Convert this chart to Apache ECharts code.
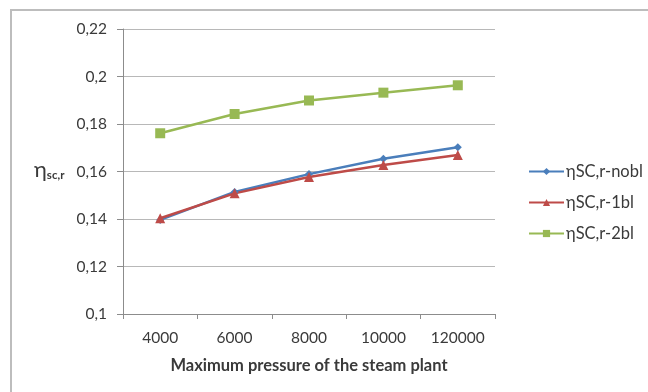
<!DOCTYPE html>
<html><head><meta charset="utf-8">
<script src="https://cdn.jsdelivr.net/npm/echarts@6/dist/echarts.min.js"></script>
<style>html,body{margin:0;padding:0;background:#fff}#c{width:648px;height:392px}</style>
</head><body><div id="c"></div>
<script>
const categories = ['4000', '6000', '8000', '10000', '120000'];
const seriesNames = ['ηSC,r-nobl', 'ηSC,r-1bl', 'ηSC,r-2bl'];
const noblValues = [0.1396, 0.1514, 0.1589, 0.1654, 0.1702];
const bl1Values = [0.1403, 0.1508, 0.1577, 0.1627, 0.1669];
const bl2Values = [0.1761, 0.1842, 0.1899, 0.1932, 0.1963];
const yTicks = [0.1, 0.12, 0.14, 0.16, 0.18, 0.2, 0.22];

const font = 'Lato, "Open Sans", sans-serif';
const txt = '#3a3a3a';
const chart = echarts.init(document.getElementById('c'), null, {renderer: 'canvas'});
function mk(name, data, color, symbol, size) {
  return {
    name, type: 'line', data, color,
    symbol, symbolSize: size, showSymbol: true,
    lineStyle: {width: 2.5, color},
    itemStyle: {color},
    animation: false
  };
}
chart.setOption({
  animation: false,
  grid: {left: 123, right: 153, top: 29, bottom: 78},
  graphic: [
    {type: 'rect', shape: {x: 11, y: 10, width: 660, height: 420}, style: {fill: 'none', stroke: '#bdbdbd', lineWidth: 2}, silent: true},
    {type: 'text', left: 34, top: 159, style: {
      text: '{a|η}{b|sc,r}',
      rich: {
        a: {fontSize: 22, fontFamily: font, fill: txt, verticalAlign: 'bottom'},
        b: {fontSize: 11.5, fontFamily: font, fill: txt, fontWeight: 'bold', padding: [7, 0, 0, 0], verticalAlign: 'bottom'}
      }
    }}
  ],
  legend: {
    orient: 'vertical', left: 523, top: 158, itemGap: 14,
    itemWidth: 35, itemHeight: 9,
    data: seriesNames,
    textStyle: {fontFamily: font, fontSize: 16.5, color: txt, padding: [0, 0, 0, -3]}
  },
  xAxis: {
    type: 'category', data: categories, boundaryGap: true,
    name: 'Maximum pressure of the steam plant', nameLocation: 'middle', nameGap: 43,
    nameTextStyle: {fontFamily: font, fontSize: 16.5, fontWeight: 'bold', color: txt},
    axisLine: {lineStyle: {color: '#8c8c8c', width: 1}},
    axisTick: {show: true, length: 5, lineStyle: {color: '#8c8c8c'}},
    axisLabel: {fontFamily: font, fontSize: 15.5, color: txt, margin: 16},
    splitLine: {show: false}
  },
  yAxis: {
    type: 'value', min: 0.1, max: 0.22, interval: 0.02,
    axisLine: {show: true, lineStyle: {color: '#8c8c8c', width: 1}},
    axisTick: {show: true, length: 6, lineStyle: {color: '#8c8c8c'}},
    axisLabel: {fontFamily: font, fontSize: 15.5, color: txt, margin: 16,
      formatter: v => {
        const t = yTicks.find(x => Math.abs(x - v) < 1e-9);
        return String(+(t !== undefined ? t : v).toFixed(2)).replace('.', ',');
      }},
    splitLine: {show: true, lineStyle: {color: '#b8b8b8', width: 1}}
  },
  series: [
    mk(seriesNames[0], noblValues, '#4a7ebb', 'diamond', 8),
    mk(seriesNames[1], bl1Values, '#be4b48', 'triangle', 10),
    mk(seriesNames[2], bl2Values, '#98b954', 'rect', 10)
  ]
});
</script></body></html>
